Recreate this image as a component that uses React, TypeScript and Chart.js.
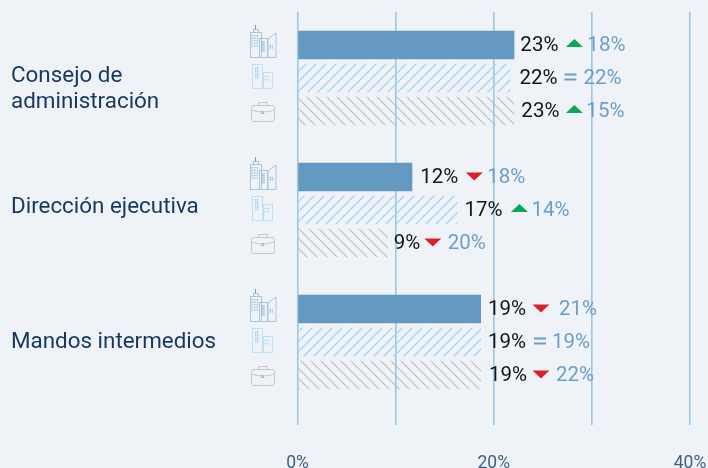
import React, { useEffect, useRef } from "react";
import { Chart, registerables } from "chart.js";

Chart.register(...registerables);

const categories = ["Consejo de|administración", "Dirección ejecutiva", "Mandos intermedios"];
const xTicks = [0, 20, 40];
const groupA = [22.1, 11.7, 18.7];
const groupB = [21.7, 16.3, 18.7];
const groupC = [22.1, 9.2, 18.7];
const valueA = ["23%", "12%", "19%"];
const valueB = ["22%", "17%", "19%"];
const valueC = ["23%", "9%", "19%"];
const trendA = ["up", "down", "down"];
const trendB = ["eq", "up", "eq"];
const trendC = ["up", "down", "down"];
const compareA = ["18%", "18%", "21%"];
const compareB = ["22%", "14%", "19%"];
const compareC = ["15%", "20%", "22%"];

const BG = "#eff3f8";
const GRID = "#97c8e6";
const FONT = "Roboto, sans-serif";
const INK = "#16375f";
const COMPARE = "#6c9ec8";

// pixel gaps from each bar's end: value text, trend mark centre, comparison text
const gaps = [
  [[6, 60, 73], [9, 60, 73], [7, 60, 72]],
  [[8, 62, 75], [7, 62, 74], [6, 45, 60]],
  [[7, 60, 78], [7, 59, 71], [8, 60, 75]],
];
// vertical nudge of each category label from its group's centre
const labelNudge = [11, -3, 0];

function hatch(color: string, dir: 1 | -1, width: number) {
  const s = 10;
  const c = document.createElement("canvas");
  c.width = s;
  c.height = s;
  const g = c.getContext("2d")!;
  g.strokeStyle = color;
  g.lineWidth = width;
  for (const o of [-s, 0, s]) {
    g.beginPath();
    if (dir === 1) {
      g.moveTo(o, s);
      g.lineTo(o + s, 0);
    } else {
      g.moveTo(o, 0);
      g.lineTo(o + s, s);
    }
    g.stroke();
  }
  return g.createPattern(c, "repeat")!;
}

function rects(g: CanvasRenderingContext2D, list: number[][]) {
  for (const r of list) g.strokeRect(r[0], r[1], r[2], r[3]);
}
function dots(g: CanvasRenderingContext2D, x: number, y: number, n: number, m: number, step: number) {
  for (let i = 0; i < n; i++) for (let j = 0; j < m; j++) g.fillRect(x + j * step, y + i * step, 1.4, 1.4);
}

function iconTowers(g: CanvasRenderingContext2D, y: number) {
  g.save();
  g.translate(250, y);
  g.strokeStyle = "#a9c5de";
  g.fillStyle = "#9dbdd9";
  g.lineWidth = 1;
  rects(g, [[0.5, -12.5, 11, 25], [3.5, -15.5, 5, 3], [9.5, -6.5, 8, 19]]);
  g.beginPath();
  g.moveTo(18, 12.5);
  g.lineTo(18, -6);
  g.lineTo(26, -12);
  g.lineTo(26, 12.5);
  g.moveTo(0, 12.5);
  g.lineTo(26, 12.5);
  g.stroke();
  g.strokeStyle = "#6d9ac2";
  g.beginPath();
  g.moveTo(5.5, -15.5);
  g.lineTo(5.5, -20);
  g.stroke();
  dots(g, 1.5, -10, 5, 3, 2.6);
  dots(g, 11.5, -4, 6, 2, 1.8);
  dots(g, 19.5, 0, 2, 2, 2.2);
  g.restore();
}
function iconBlocks(g: CanvasRenderingContext2D, y: number) {
  g.save();
  g.translate(252, y);
  g.strokeStyle = "#bde0f3";
  g.fillStyle = "#a5d2ee";
  g.lineWidth = 1;
  rects(g, [[0.5, -13.5, 10, 24], [11.5, -5.5, 9, 16]]);
  dots(g, 3, -11, 6, 2, 2);
  dots(g, 12.5, -2, 2, 2, 3);
  g.restore();
}
function iconCase(g: CanvasRenderingContext2D, y: number) {
  g.save();
  g.translate(251, y);
  g.strokeStyle = "#c5c8cc";
  g.lineWidth = 1;
  g.beginPath();
  g.roundRect(0.5, -5.5, 23, 16, 2.5);
  g.moveTo(0.5, -1);
  g.quadraticCurveTo(12, 3, 23.5, -1);
  g.moveTo(7.5, -5.5);
  g.lineTo(7.5, -8.5);
  g.lineTo(16.5, -8.5);
  g.lineTo(16.5, -5.5);
  g.stroke();
  g.strokeStyle = "#b5b8bc";
  g.strokeRect(10.5, 0.5, 2, 2);
  g.restore();
}

const annotate = {
  id: "annotate",
  afterDatasetsDraw(chart: any) {
    const g = chart.ctx as CanvasRenderingContext2D;
    const values = [valueA, valueB, valueC];
    const trends = [trendA, trendB, trendC];
    const compares = [compareA, compareB, compareC];
    const icons = [iconTowers, iconBlocks, iconCase];
    g.save();
    g.textBaseline = "middle";
    g.textAlign = "left";
    categories.forEach((label, i) => {
      const lines = label.split("|");
      const c = chart.scales.y.getPixelForTick(i) + labelNudge[i];
      g.font = `22.4px ${FONT}`;
      g.fillStyle = INK;
      lines.forEach((line, k) => g.fillText(line, 11, c + (k - (lines.length - 1) / 2) * 26));
    });
    values.forEach((vals, d) => {
      chart.getDatasetMeta(d).data.forEach((bar: any, i: number) => {
        const [a, b, c] = gaps[i][d];
        const y = bar.y + 0.5;
        icons[d](g, bar.y);
        g.font = `20.5px ${FONT}`;
        g.fillStyle = "#111418";
        g.fillText(vals[i], bar.x + a, y);
        const t = trends[d][i];
        const m = bar.x + b;
        if (t === "eq") {
          g.fillStyle = COMPARE;
          g.fillRect(m - 6, y - 5, 12, 2);
          g.fillRect(m - 6, y, 12, 2);
        } else {
          g.fillStyle = t === "up" ? "#0aa855" : "#d7202c";
          g.beginPath();
          if (t === "up") {
            g.moveTo(m - 8.5, y + 1.5);
            g.lineTo(m + 8.5, y + 1.5);
            g.lineTo(m, y - 6.5);
          } else {
            g.moveTo(m - 8.5, y - 5);
            g.lineTo(m + 8.5, y - 5);
            g.lineTo(m, y + 3);
          }
          g.fill();
        }
        g.fillStyle = COMPARE;
        g.fillText(compares[d][i], bar.x + c, y);
      });
    });
    g.restore();
  },
};

export default function App() {
  const ref = useRef<HTMLCanvasElement>(null);
  useEffect(() => {
    document.body.style.margin = "0";
    document.body.style.background = BG;
    const chart = new Chart(ref.current!, {
      type: "bar",
      data: {
        labels: categories,
        datasets: [
          { data: groupA, backgroundColor: "#6499c2" },
          { data: groupB, backgroundColor: hatch("#a5d4ef", 1, 1.25) },
          { data: groupC, backgroundColor: hatch("#bcbdbe", -1, 1.2) },
        ],
      },
      options: {
        indexAxis: "y",
        responsive: false,
        animation: false,
        datasets: { bar: { categoryPercentage: 0.75, barPercentage: 0.87 } },
        layout: { padding: { left: 0, right: 18, top: 12, bottom: 0 } },
        plugins: { legend: { display: false }, tooltip: { enabled: false } },
        scales: {
          x: {
            min: 0,
            max: 40,
            afterFit(s: any) {
              s.height = 60;
              s.paddingLeft = 0;
              s.paddingRight = 0;
            },
            afterBuildTicks(s: any) {
              s.ticks = [0, 10, 20, 30, 40].map((value) => ({ value }));
            },
            border: { display: false },
            grid: { color: GRID, lineWidth: 1.6, tickLength: 17 },
            ticks: {
              autoSkip: false,
              maxRotation: 0,
              padding: 28,
              color: "#3f5f84",
              font: { family: FONT, size: 17.5 },
              callback: (v: any) => (xTicks.includes(Number(v)) ? `${v}%` : ""),
            },
          },
          y: {
            afterFit(s: any) {
              s.width = 297.5;
            },
            border: { display: false },
            grid: { display: false, drawTicks: false },
            ticks: { display: false },
          },
        },
      } as any,
      plugins: [annotate],
    });
    return () => chart.destroy();
  }, []);
  return <canvas ref={ref} width={708} height={468} style={{ display: "block", background: BG }} />;
}
